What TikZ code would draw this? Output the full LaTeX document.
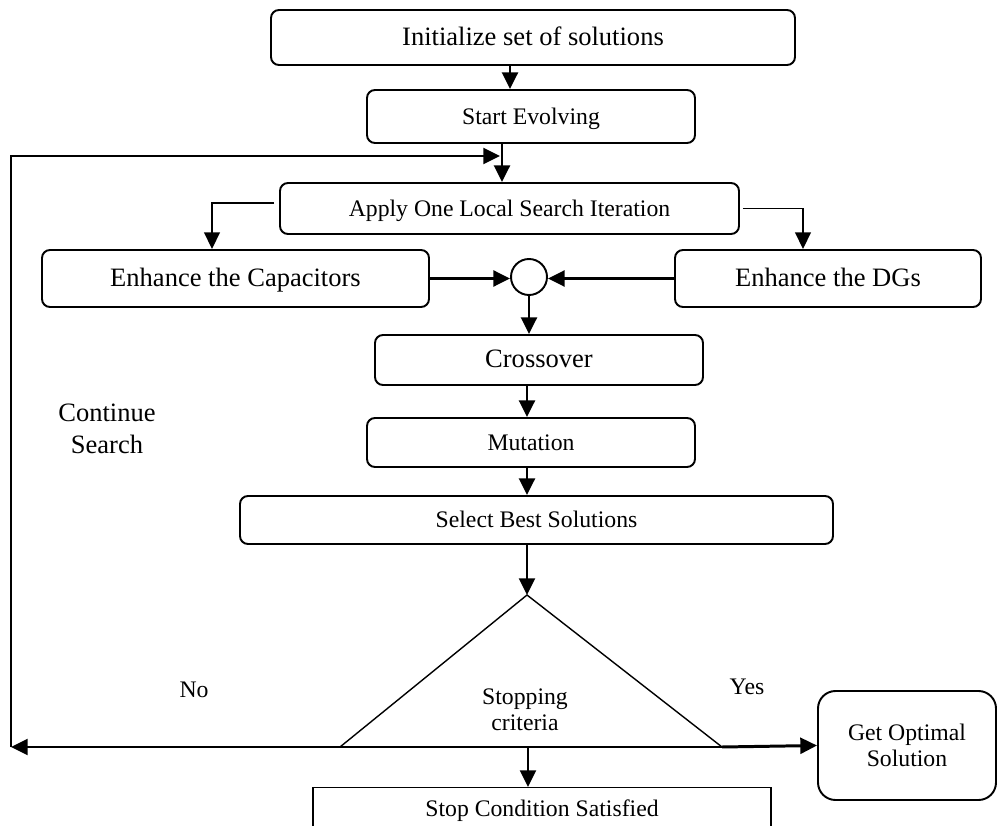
\documentclass[tikz,border=0pt]{standalone}
\usepackage{fontspec}
\setmainfont{Liberation Serif}
\usetikzlibrary{arrows.meta}
\newcommand{\bigtxt}{\fontsize{15.1}{18.1}\selectfont}
\newcommand{\smalltxt}{\fontsize{13.5}{15}\selectfont}

\begin{document}
\begin{tikzpicture}[
  box/.style={draw, line width=1.1pt, rounded corners=1.6mm, inner sep=0pt, align=center},
  oneline/.style={text height=0.9em, text depth=0pt},
  arr/.style={-{Triangle[length=9.5pt,width=9pt]}, line width=1.7pt},
  branch/.style={-{Triangle[length=9.5pt,width=9pt]}, line width=0.8pt},
  thinline/.style={line width=0.8pt}]
\useasboundingbox (0,0) rectangle (19.94,16.5);
% main column
\node[box, oneline, minimum width=10.48cm, minimum height=1.1cm, font=\bigtxt] (init) at (10.66,15.75) {Initialize set of solutions};
\node[box, oneline, minimum width=6.56cm, minimum height=1.06cm, font=\smalltxt] (start) at (10.62,14.17) {Start Evolving};
\node[box, oneline, minimum width=9.18cm, minimum height=1.02cm, font=\smalltxt] (apply) at (10.19,12.33) {Apply One Local Search Iteration};
\node[box, oneline, minimum width=7.74cm, minimum height=1.14cm, font=\bigtxt] (cap) at (4.71,10.93) {Enhance the Capacitors};
\node[box, oneline, minimum width=6.12cm, minimum height=1.14cm, font=\bigtxt] (dgs) at (16.56,10.93) {Enhance the DGs};
\node[draw, circle, line width=1.1pt, minimum size=0.72cm, inner sep=0pt] (circ) at (10.58,10.96) {};
\node[box, oneline, minimum width=6.56cm, minimum height=1.0cm, font=\bigtxt] (cross) at (10.78,9.30) {Crossover};
\node[box, oneline, minimum width=6.56cm, minimum height=0.98cm, font=\smalltxt] (mut) at (10.62,7.65) {Mutation};
\node[box, oneline, minimum width=11.86cm, minimum height=0.96cm, font=\smalltxt] (sel) at (10.73,6.10) {Select Best Solutions};
% decision
\coordinate (top) at (10.54,4.60);
\coordinate (bl) at (6.80,1.56);
\coordinate (br) at (14.44,1.56);
\coordinate (bm) at (10.56,1.56);
\coordinate (lend) at (0.22,1.56);
\coordinate (join) at (10.0,13.38);
\node[font=\smalltxt, align=center] (crit) at (10.50,2.30) {Stopping\\criteria};
\node[box, rounded corners=3.5mm, minimum width=3.56cm, minimum height=2.18cm, font=\smalltxt] (opt) at (18.14,1.59) {Get Optimal\\Solution};
\node[draw, line width=0.8pt, minimum width=9.16cm, minimum height=0.9cm, anchor=north, font=\smalltxt] (stop) at (10.84,0.76) {Stop Condition Satisfied};
% labels
\node[font=\smalltxt] (no) at (3.88,2.70) {No};
\node[font=\smalltxt] (yes) at (14.94,2.76) {Yes};
\node[font=\bigtxt, align=center] (cont) at (2.14,7.92) {Continue\\Search};
% connectors
\draw[arr] ([xshift=-4.6mm]init.south)--([xshift=-4.6mm]init.south |- start.north);
\draw[arr] ([xshift=-5.8mm]start.south)--([xshift=-5.8mm]start.south |- apply.north);
\draw[branch] ([xshift=-1mm,yshift=1.1mm]apply.west) -| ([xshift=-4.7mm]cap.north);
\draw[branch] ([xshift=0.6mm]apply.east) -| ([xshift=-5mm]dgs.north);
\draw[arr] (cap.east)--(cap.east -| circ.west);
\draw[arr] (dgs.west)--(dgs.west -| circ.east);
\draw[arr] (circ.south)--(circ.south |- cross.north);
\draw[arr] (cross.south -| top)--(mut.north -| top);
\draw[arr] (mut.south -| top)--(sel.north -| top);
\draw[arr] (sel.south -| top)--(top);
\draw[thinline] (bl)--(top)--(br);
\draw[line width=1.7pt] (bl)--(br);
\draw[arr] (bl)--(lend);
\draw[arr] (br)--(opt.west);
\draw[arr] (bm)--(bm |- stop.north);
\draw[arr] (lend) |- (join);
\end{tikzpicture}
\end{document}
